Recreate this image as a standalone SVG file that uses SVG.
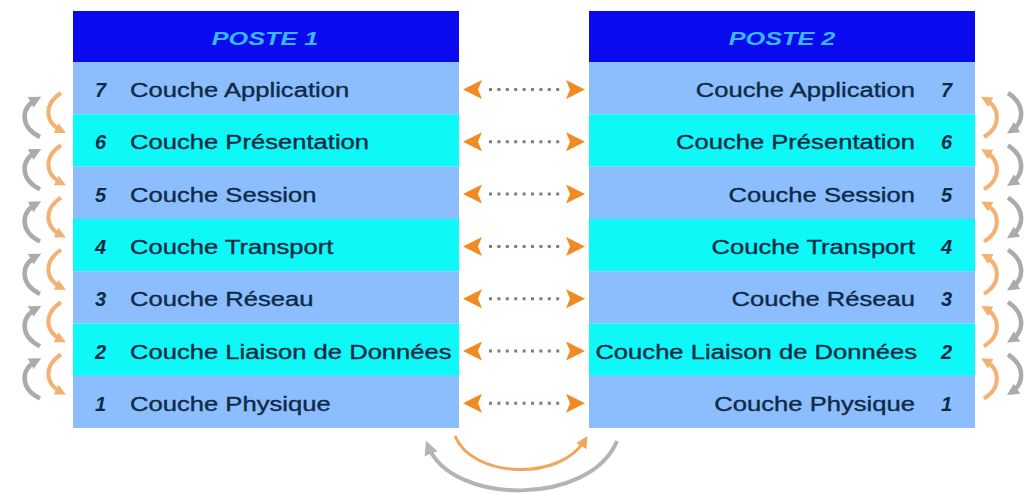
<svg xmlns="http://www.w3.org/2000/svg" width="1030" height="504" viewBox="0 0 1030 504">
<style>
.hdr{fill:#0A0AEE}
.rA{fill:#8CBDFF}
.rB{fill:#0FF8F8}
.ht{font-family:"Liberation Sans",Arial,sans-serif;font-size:19px;font-weight:bold;font-style:italic;fill:#3AB8FF}
.t{font-family:"Liberation Sans",Arial,sans-serif;font-size:20px;fill:#0E2A44;stroke:#0E2A44;stroke-width:0.35}
.n{font-family:"Liberation Sans",Arial,sans-serif;font-size:20px;font-weight:bold;font-style:italic;fill:#0E2A44}
.dot{stroke:#8E7A6C;stroke-width:3;stroke-dasharray:3 5.4;fill:none}
.ah{fill:#F08A22}
.og{fill:none;stroke:#F3B274;stroke-width:4}
.gy{fill:none;stroke:#ABABAB;stroke-width:4.5}
.og2{fill:none;stroke:#F2A55E;stroke-width:3}
.gy2{fill:none;stroke:#B4B4B4;stroke-width:4}
</style>
<defs>
<marker id="mo" viewBox="0 0 10 10" refX="6" refY="5" markerWidth="11" markerHeight="11" markerUnits="userSpaceOnUse" orient="auto"><path d="M0,0 L10,5 L0,10 z" fill="#F3B274"/></marker>
<marker id="mg" viewBox="0 0 10 10" refX="6" refY="5" markerWidth="12" markerHeight="12" markerUnits="userSpaceOnUse" orient="auto"><path d="M0,0 L10,5 L0,10 z" fill="#ABABAB"/></marker>
<marker id="mo2" viewBox="0 0 10 10" refX="6" refY="5" markerWidth="12" markerHeight="12" markerUnits="userSpaceOnUse" orient="auto"><path d="M0,0 L10,5 L0,10 z" fill="#F2A55E"/></marker>
<marker id="mg2" viewBox="0 0 10 10" refX="6" refY="5" markerWidth="14" markerHeight="14" markerUnits="userSpaceOnUse" orient="auto"><path d="M0,0 L10,5 L0,10 z" fill="#B4B4B4"/></marker>
</defs>
<rect width="1030" height="504" fill="#FFFFFF"/>

<g id="poste1">
<rect class="hdr" x="73" y="11" width="386" height="51"/>
<text class="ht" text-anchor="middle" transform="translate(265 45) scale(1.33 1)">POSTE 1</text>
<g id="p1-l7"><rect class="rA" x="73" y="62" width="386" height="52.4"/><text class="n" x="95" y="97">7</text><text class="t" transform="translate(130 97) scale(1.28 1)">Couche Application</text></g>
<g id="p1-l6"><rect class="rB" x="73" y="114.3" width="386" height="52.4"/><text class="n" x="95" y="149.3">6</text><text class="t" transform="translate(130 149.3) scale(1.28 1)">Couche Présentation</text></g>
<g id="p1-l5"><rect class="rA" x="73" y="166.6" width="386" height="52.4"/><text class="n" x="95" y="201.6">5</text><text class="t" transform="translate(130 201.6) scale(1.28 1)">Couche Session</text></g>
<g id="p1-l4"><rect class="rB" x="73" y="218.9" width="386" height="52.4"/><text class="n" x="95" y="254">4</text><text class="t" transform="translate(130 254) scale(1.28 1)">Couche Transport</text></g>
<g id="p1-l3"><rect class="rA" x="73" y="271.2" width="386" height="52.4"/><text class="n" x="95" y="306.3">3</text><text class="t" transform="translate(130 306.3) scale(1.28 1)">Couche Réseau</text></g>
<g id="p1-l2"><rect class="rB" x="73" y="323.5" width="386" height="52.4"/><text class="n" x="95" y="358.6">2</text><text class="t" transform="translate(130 358.6) scale(1.28 1)">Couche Liaison de Données</text></g>
<g id="p1-l1"><rect class="rA" x="73" y="375.8" width="386" height="52.2"/><text class="n" x="95" y="411">1</text><text class="t" transform="translate(130 411) scale(1.28 1)">Couche Physique</text></g>
</g>

<g id="poste2">
<rect class="hdr" x="589" y="11" width="386" height="51"/>
<text class="ht" text-anchor="middle" transform="translate(782 45) scale(1.33 1)">POSTE 2</text>
<g id="p2-l7"><rect class="rA" x="589" y="62" width="386" height="52.4"/><text class="n" x="941" y="97">7</text><text class="t" text-anchor="end" transform="translate(915 97) scale(1.28 1)">Couche Application</text></g>
<g id="p2-l6"><rect class="rB" x="589" y="114.3" width="386" height="52.4"/><text class="n" x="941" y="149.3">6</text><text class="t" text-anchor="end" transform="translate(915 149.3) scale(1.28 1)">Couche Présentation</text></g>
<g id="p2-l5"><rect class="rA" x="589" y="166.6" width="386" height="52.4"/><text class="n" x="941" y="201.6">5</text><text class="t" text-anchor="end" transform="translate(915 201.6) scale(1.28 1)">Couche Session</text></g>
<g id="p2-l4"><rect class="rB" x="589" y="218.9" width="386" height="52.4"/><text class="n" x="941" y="254">4</text><text class="t" text-anchor="end" transform="translate(915 254) scale(1.28 1)">Couche Transport</text></g>
<g id="p2-l3"><rect class="rA" x="589" y="271.2" width="386" height="52.4"/><text class="n" x="941" y="306.3">3</text><text class="t" text-anchor="end" transform="translate(915 306.3) scale(1.28 1)">Couche Réseau</text></g>
<g id="p2-l2"><rect class="rB" x="589" y="323.5" width="386" height="52.4"/><text class="n" x="941" y="358.6">2</text><text class="t" text-anchor="end" transform="translate(917 358.6) scale(1.28 1)">Couche Liaison de Données</text></g>
<g id="p2-l1"><rect class="rA" x="589" y="375.8" width="386" height="52.2"/><text class="n" x="941" y="411">1</text><text class="t" text-anchor="end" transform="translate(915 411) scale(1.28 1)">Couche Physique</text></g>
</g>

<g id="connectors">
<g id="peer">
<path class="dot" d="M489 89.5H560 M489 141.8H560 M489 194.1H560 M489 246.4H560 M489 298.7H560 M489 351H560 M489 403.3H560"/>
<g class="ah">
<path d="M463 89.5 L482 80 L478 89.5 L482 99 z"/><path d="M585 89.5 L566 80 L570 89.5 L566 99 z"/>
<path d="M463 141.8 L482 132.3 L478 141.8 L482 151.3 z"/><path d="M585 141.8 L566 132.3 L570 141.8 L566 151.3 z"/>
<path d="M463 194.1 L482 184.6 L478 194.1 L482 203.6 z"/><path d="M585 194.1 L566 184.6 L570 194.1 L566 203.6 z"/>
<path d="M463 246.4 L482 236.9 L478 246.4 L482 255.9 z"/><path d="M585 246.4 L566 236.9 L570 246.4 L566 255.9 z"/>
<path d="M463 298.7 L482 289.2 L478 298.7 L482 308.2 z"/><path d="M585 298.7 L566 289.2 L570 298.7 L566 308.2 z"/>
<path d="M463 351 L482 341.5 L478 351 L482 360.5 z"/><path d="M585 351 L566 341.5 L570 351 L566 360.5 z"/>
<path d="M463 403.3 L482 393.8 L478 403.3 L482 412.8 z"/><path d="M585 403.3 L566 393.8 L570 403.3 L566 412.8 z"/>
</g>
</g>
<g id="left-side">
<path class="og" marker-end="url(#mo)" d="M61 93 C44 104 44 122 62 131"/>
<path class="og" marker-end="url(#mo)" d="M61 145.3 C44 156.3 44 174.3 62 183.3"/>
<path class="og" marker-end="url(#mo)" d="M61 197.6 C44 208.6 44 226.6 62 235.6"/>
<path class="og" marker-end="url(#mo)" d="M61 249.9 C44 260.9 44 278.9 62 287.9"/>
<path class="og" marker-end="url(#mo)" d="M61 302.2 C44 313.2 44 331.2 62 340.2"/>
<path class="og" marker-end="url(#mo)" d="M61 354.5 C44 365.5 44 383.5 62 392.5"/>
<path class="gy" marker-end="url(#mg)" d="M40 137 C20 127 20 108 37 99"/>
<path class="gy" marker-end="url(#mg)" d="M40 189.3 C20 179.3 20 160.3 37 151.3"/>
<path class="gy" marker-end="url(#mg)" d="M40 241.6 C20 231.6 20 212.6 37 203.6"/>
<path class="gy" marker-end="url(#mg)" d="M40 293.9 C20 283.9 20 264.9 37 255.9"/>
<path class="gy" marker-end="url(#mg)" d="M40 346.2 C20 336.2 20 317.2 37 308.2"/>
<path class="gy" marker-end="url(#mg)" d="M40 398.5 C20 388.5 20 369.5 37 360.5"/>
</g>
<g id="right-side">
<path class="og" marker-end="url(#mo)" d="M984 137 C1001 127 1001 108 985 99"/>
<path class="og" marker-end="url(#mo)" d="M984 189.3 C1001 179.3 1001 160.3 985 151.3"/>
<path class="og" marker-end="url(#mo)" d="M984 241.6 C1001 231.6 1001 212.6 985 203.6"/>
<path class="og" marker-end="url(#mo)" d="M984 293.9 C1001 283.9 1001 264.9 985 255.9"/>
<path class="og" marker-end="url(#mo)" d="M984 346.2 C1001 336.2 1001 317.2 985 308.2"/>
<path class="og" marker-end="url(#mo)" d="M984 398.5 C1001 388.5 1001 369.5 985 360.5"/>
<path class="gy" marker-end="url(#mg)" d="M1008 93 C1025 104 1025 122 1011 131"/>
<path class="gy" marker-end="url(#mg)" d="M1008 145.3 C1025 156.3 1025 174.3 1011 183.3"/>
<path class="gy" marker-end="url(#mg)" d="M1008 197.6 C1025 208.6 1025 226.6 1011 235.6"/>
<path class="gy" marker-end="url(#mg)" d="M1008 249.9 C1025 260.9 1025 278.9 1011 287.9"/>
<path class="gy" marker-end="url(#mg)" d="M1008 302.2 C1025 313.2 1025 331.2 1011 340.2"/>
<path class="gy" marker-end="url(#mg)" d="M1008 354.5 C1025 365.5 1025 383.5 1011 392.5"/>
</g>
<g id="bottom">
<path class="og2" marker-end="url(#mo2)" d="M455 436 C472 478 560 482 585 440"/>
<path class="gy2" marker-end="url(#mg2)" d="M617 441 C590 506 452 506 428 446"/>
</g>
</g>
</svg>
